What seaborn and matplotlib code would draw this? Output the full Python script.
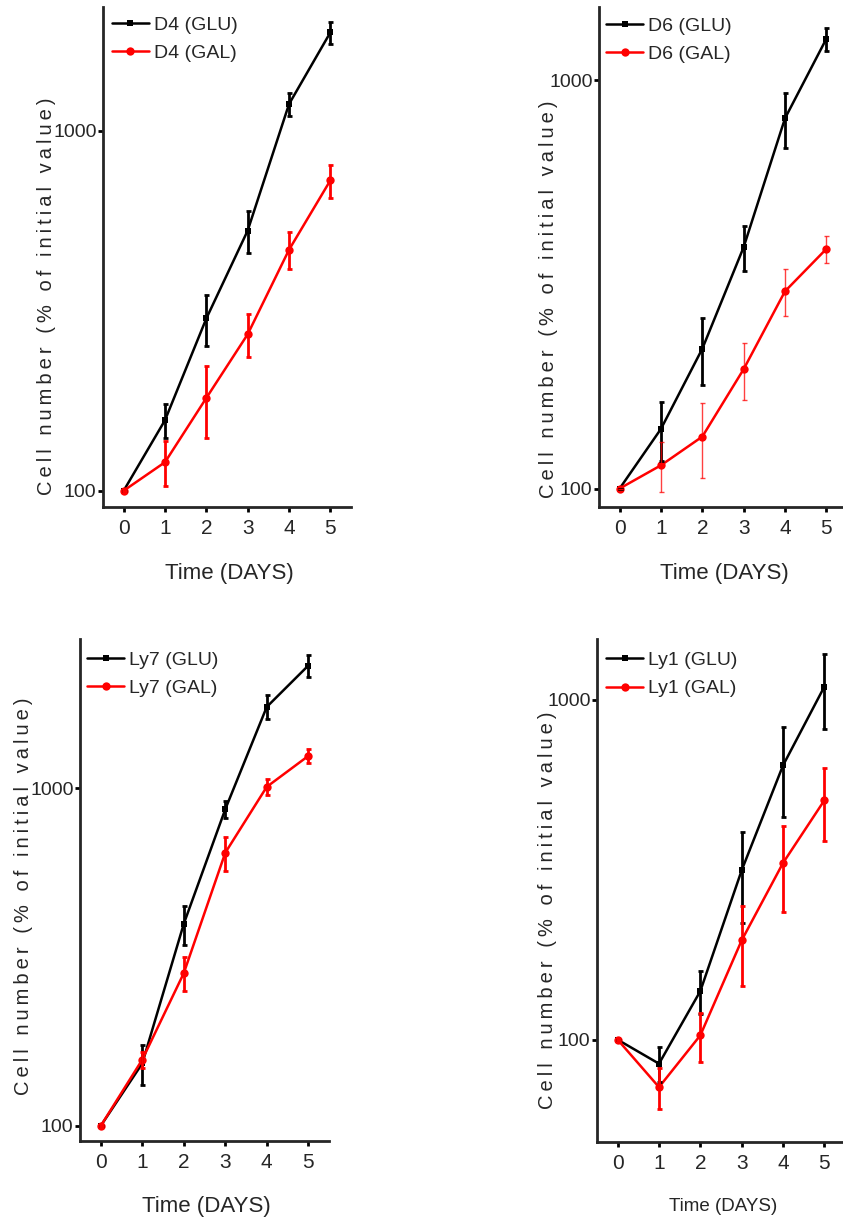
import numpy as np
import pandas as pd
import matplotlib
matplotlib.use("Agg")
import matplotlib.pyplot as plt
from matplotlib.ticker import NullLocator, FixedLocator, FixedFormatter
import seaborn as sns

sns.set_style("ticks")
plt.rcParams["font.family"] = ["Liberation Sans", "DejaVu Sans"]

# ---------------- data ----------------
days = [0, 1, 2, 3, 4, 5]

d4_glu = [100, 157, 301, 528, 1186, 1876]
d4_glu_err = [0, 17, 49, 70, 86, 135]
d4_gal = [100, 120, 181, 272, 467, 728]
d4_gal_err = [0, 17, 41, 37, 55, 78]

d6_glu = [100, 140, 220, 390, 806, 1262]
d6_glu_err = [0, 23, 41, 50, 124, 82]
d6_gal = [100, 114, 134, 196, 304, 386]
d6_gal_err = [0, 16, 28, 31, 40, 30]

ly7_glu = [100, 153, 396, 865, 1738, 2303]
ly7_glu_err = [0, 21, 53, 49, 141, 166]
ly7_gal = [100, 157, 283, 643, 1008, 1244]
ly7_gal_err = [0, 9, 33, 74, 54, 57]

ly1_glu = [100, 85, 139, 315, 641, 1093]
ly1_glu_err = [0, 10, 20, 94, 190, 275]
ly1_gal = [100, 72.5, 103, 196, 331, 506]
ly1_gal_err = [0, 10, 17, 52, 93, 122]

line_names = ["D4", "D6", "Ly7", "Ly1"]
y_ticks = [100, 1000]
y_tick_labels = ["100", "1000"]
x_label = "Time (DAYS)"
y_label = "Cell number (% of initial value)"

# ---------------- layout ----------------
W, H = 843, 1224
fig = plt.figure(figsize=(W / 100, H / 100), dpi=100)

panels = [
    dict(name="D4", glu=d4_glu, glu_err=d4_glu_err, gal=d4_gal, gal_err=d4_gal_err,
         pos=[103 / W, (H - 507) / H, 248 / W, 500 / H], ylim=(90.1, 2208),
         leg=(0.036, 0.982), ylab=(-0.19, 0.422), xlab=(0.508, -0.132), xlsize=16,
         gal_eb=dict(lw=2.0, cap=1.8, alpha=1.0)),
    dict(name="D6", glu=d6_glu, glu_err=d6_glu_err, gal=d6_gal, gal_err=d6_gal_err,
         pos=[599 / W, (H - 507) / H, 248 / W, 500 / H], ylim=(90.1, 1510),
         leg=(0.030, 0.980), ylab=(-0.165, 0.416), xlab=(0.504, -0.132), xlsize=16,
         gal_eb=dict(lw=1.0, cap=1.8, alpha=0.75)),
    dict(name="Ly7", glu=ly7_glu, glu_err=ly7_glu_err, gal=ly7_gal, gal_err=ly7_gal_err,
         pos=[80 / W, (H - 1141) / H, 249 / W, 502 / H], ylim=(90.2, 2761),
         leg=(0.030, 0.976), ylab=(-0.189, 0.488), xlab=(0.506, -0.131), xlsize=16,
         gal_eb=dict(lw=2.0, cap=1.8, alpha=1.0)),
    dict(name="Ly1", glu=ly1_glu, glu_err=ly1_glu_err, gal=ly1_gal, gal_err=ly1_gal_err,
         pos=[597 / W, (H - 1142) / H, 248 / W, 503 / H], ylim=(50, 1510),
         leg=(0.038, 0.975), ylab=(-0.161, 0.461), xlab=(0.508, -0.129), xlsize=13.5,
         gal_eb=dict(lw=2.0, cap=1.8, alpha=1.0)),
]

spaced_ylabel = "\u2009".join(list(y_label))

for p in panels:
    ax = fig.add_axes(p["pos"])
    ax.set_yscale("log")
    df_glu = pd.DataFrame({"day": days, "value": p["glu"]})
    df_gal = pd.DataFrame({"day": days, "value": p["gal"]})

    sns.lineplot(data=df_glu, x="day", y="value", ax=ax, color="black", marker="s",
                 markersize=5, markeredgewidth=0, linewidth=1.8, errorbar=None,
                 label=f"{p['name']} (GLU)")
    sns.lineplot(data=df_gal, x="day", y="value", ax=ax, color="#ff0000", marker="o",
                 markersize=6, markeredgewidth=0, linewidth=1.8, errorbar=None,
                 label=f"{p['name']} (GAL)")

    ax.errorbar(days, p["glu"], yerr=p["glu_err"], fmt="none", ecolor="black",
                elinewidth=2.0, capsize=1.8, capthick=2.0, zorder=3)
    ge = p["gal_eb"]
    ax.errorbar(days, p["gal"], yerr=p["gal_err"], fmt="none", ecolor="#ff0000",
                elinewidth=ge["lw"], capsize=ge["cap"], capthick=ge["lw"],
                alpha=ge["alpha"], zorder=3.5)

    ax.set_xlim(-0.5, 5.5)
    ax.set_ylim(*p["ylim"])
    ax.yaxis.set_major_locator(FixedLocator(y_ticks))
    ax.yaxis.set_major_formatter(FixedFormatter(y_tick_labels))
    ax.yaxis.set_minor_locator(NullLocator())
    ax.set_xticks(days)
    ax.set_xticklabels([str(d) for d in days])

    for side in ["top", "right"]:
        ax.spines[side].set_visible(False)
    for side in ["left", "bottom"]:
        ax.spines[side].set_linewidth(2.0)
    ax.tick_params(axis="both", direction="out", length=3.6, width=2.0, color="black")
    ax.tick_params(axis="x", labelsize=15, pad=5)
    ax.tick_params(axis="y", labelsize=14, pad=1)

    ax.set_xlabel(x_label, fontsize=p["xlsize"])
    ax.xaxis.set_label_coords(*p["xlab"])
    ax.xaxis.label.set_verticalalignment("center")
    ax.set_ylabel(spaced_ylabel, fontsize=14.5)
    ax.yaxis.set_label_coords(*p["ylab"])

    leg = ax.legend(loc="upper left", bbox_to_anchor=p["leg"], frameon=False,
                    fontsize=14, handlelength=1.9, handletextpad=0.25,
                    labelspacing=0.55, borderpad=0, borderaxespad=0)

fig.savefig("out.png", dpi=100)
